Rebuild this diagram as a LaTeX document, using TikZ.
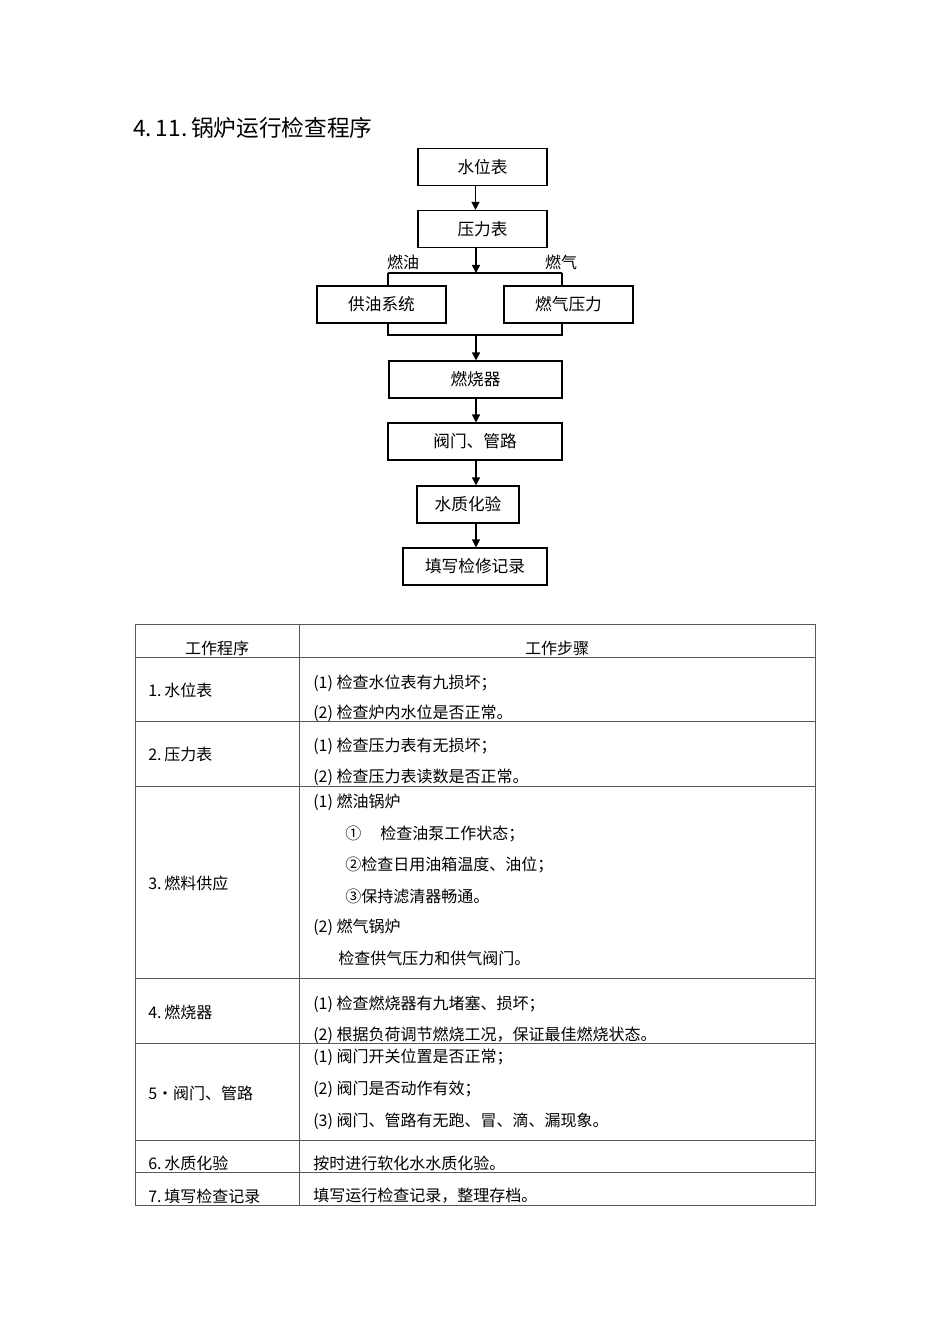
\documentclass[tikz,border=0pt]{standalone}
\usepackage{fontspec}
\setmainfont{Noto Sans CJK SC}
\usetikzlibrary{calc,arrows.meta}
\begin{document}
\begin{tikzpicture}[x=0.75pt,y=-0.75pt,
  fbox/.style={draw=black,line width=1.1pt,minimum height=27.5pt,inner sep=0pt,font=\fontsize{12.5pt}{14pt}\selectfont,fill=white},
  arr/.style={line width=1pt,-{Triangle[length=6pt,width=6pt]}},
  ln/.style={line width=1pt},
  lbl/.style={font=\fontsize{12pt}{14pt}\selectfont,inner sep=0pt},
  tl/.style={draw=black!65,line width=0.6pt},
  tx/.style={font=\fontsize{12pt}{14pt}\selectfont,anchor=west,inner sep=0pt},
  hx/.style={font=\fontsize{12pt}{14pt}\selectfont,inner sep=0pt}]
\useasboundingbox (0,0) rectangle (950,1344);
% title
\node[anchor=west,inner sep=0pt,font=\fontsize{17pt}{19pt}\selectfont] (title) at (133,128) {4.\,11.\,锅炉运行检查程序};
% flowchart boxes
\node[fbox,minimum width=96.75pt] (a) at (482.5,167) {水位表};
\node[fbox,minimum width=96.75pt] (b) at (482.5,229) {压力表};
\node[fbox,minimum width=96.75pt] (c) at (381.5,304.5) {供油系统};
\node[fbox,minimum width=96.75pt] (d) at (568.5,304.5) {燃气压力};
\node[fbox,minimum width=129.75pt] (e) at (475.5,379.5) {燃烧器};
\node[fbox,minimum width=130.5pt] (f) at (475,441.5) {阀门、管路};
\node[fbox,minimum width=76.5pt] (g) at (468,504.5) {水质化验};
\node[fbox,minimum width=108pt] (h) at (475,566.5) {填写检修记录};
\coordinate (j1) at (476,273);
\coordinate (jl) at (388,273);
\coordinate (jr) at (562,273);
\coordinate (k1) at (476,335);
\coordinate (kl) at (388,335);
\coordinate (kr) at (562,335);
\node[lbl] (oil) at (403,262) {燃油};
\node[lbl] (gas) at (561,262) {燃气};
\draw[arr] (a.south -| e.north) -- (b.north -| e.north);
\draw[arr] (b.south -| j1) -- (j1);
\draw[ln] (jl) -- (jr);
\draw[ln] (jl) -- (c.north -| jl);
\draw[ln] (jr) -- (d.north -| jr);
\draw[ln] (c.south -| kl) -- (kl) -- (kr) -- (d.south -| kr);
\draw[arr] (k1) -- (e.north -| k1);
\draw[arr] (e.south -| k1) -- (f.north -| k1);
\draw[arr] (f.south -| k1) -- (g.north -| k1);
\draw[arr] (g.south -| k1) -- (h.north -| k1);
% table
\draw[tl] (135,624) rectangle (815,1205);
\draw[tl] (299,624) -- (299,1205);
\foreach \yy in {657,721,786,978,1043,1140,1172} \draw[tl] (135,\yy) -- (815,\yy);
\node[hx] (h1) at (217,648) {工作程序};
\node[hx] (h2) at (557,648) {工作步骤};
% row 1
\node[tx] (r1) at (148,690) {1.\,水位表};
\node[tx] (r1a) at (313,683) {(1) 检查水位表有九损坏；};
\node[tx] (r1b) at (313,713) {(2) 检查炉内水位是否正常。};
% row 2
\node[tx] (r2) at (148,754) {2.\,压力表};
\node[tx] (r2a) at (313,746) {(1) 检查压力表有无损坏；};
\node[tx] (r2b) at (313,777) {(2) 检查压力表读数是否正常。};
% row 3
\node[tx] (r3) at (148,883) {3.\,燃料供应};
\node[tx] (r3a) at (313,802) {(1) 燃油锅炉};
\node[tx] (r3b) at (345,834) {①\hspace{1.2em}检查油泵工作状态；};
\node[tx] (r3c) at (345,865) {②检查日用油箱温度、油位；};
\node[tx] (r3d) at (345,896) {③保持滤清器畅通。};
\node[tx] (r3e) at (313,927) {(2) 燃气锅炉};
\node[tx] (r3f) at (338,958) {检查供气压力和供气阀门。};
% row 4
\node[tx] (r4) at (148,1012) {4.\,燃烧器};
\node[tx] (r4a) at (313,1004) {(1) 检查燃烧器有九堵塞、损坏；};
\node[tx] (r4b) at (313,1035) {(2) 根据负荷调节燃烧工况，保证最佳燃烧状态。};
% row 5
\node[tx] (r5) at (148,1093) {5•阀门、管路};
\node[tx] (r5a) at (313,1057) {(1) 阀门开关位置是否正常；};
\node[tx] (r5b) at (313,1089) {(2) 阀门是否动作有效；};
\node[tx] (r5c) at (313,1121) {(3) 阀门、管路有无跑、冒、滴、漏现象。};
% row 6
\node[tx] (r6) at (148,1163) {6.\,水质化验};
\node[tx] (r6a) at (313,1163) {按时进行软化水水质化验。};
% row 7
\node[tx] (r7) at (148,1196) {7.\,填写检查记录};
\node[tx] (r7a) at (313,1196) {填写运行检查记录，整理存档。};
\end{tikzpicture}
\end{document}
